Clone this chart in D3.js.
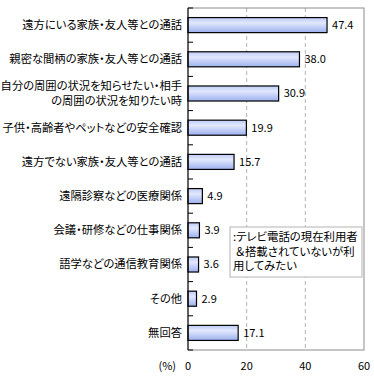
<!DOCTYPE html>
<html>
<head>
<meta charset="utf-8">
<script src="https://cdn.jsdelivr.net/npm/d3@7"></script>
<style>
  body { margin: 0; background: #fff; }
  text { font-family: "Noto Sans CJK JP", sans-serif; font-size: 11px; fill: #000; font-feature-settings: "palt"; }
  text.cat { font-size: 11.3px; }
  .legend text { font-size: 11.4px; }
</style>
</head>
<body>
<script>
const categories = [
  "遠方にいる家族・友人等との通話",
  "親密な間柄の家族・友人等との通話",
  "自分の周囲の状況を知らせたい・相手\nの周囲の状況を知りたい時",
  "子供・高齢者やペットなどの安全確認",
  "遠方でない家族・友人等との通話",
  "遠隔診察などの医療関係",
  "会議・研修などの仕事関係",
  "語学などの通信教育関係",
  "その他",
  "無回答",
];
const values = [47.4, 38.0, 30.9, 19.9, 15.7, 4.9, 3.9, 3.6, 2.9, 17.1];
const xTicks = [0, 20, 40, 60];
const legendLines = [":テレビ電話の現在利用者", " ＆搭載されていないが利", "用してみたい"];

const width = 374;
const height = 380;
const margin = { top: 8, right: 10, bottom: 30, left: 188 };

const svg = d3
  .select("body")
  .append("svg")
  .attr("width", width)
  .attr("height", height);

const defs = svg.append("defs");
const grad = defs
  .append("linearGradient")
  .attr("id", "barGrad")
  .attr("x1", 0).attr("y1", 0).attr("x2", 0).attr("y2", 1);
grad.append("stop").attr("offset", "0%").attr("stop-color", "#bccaf6");
grad.append("stop").attr("offset", "35%").attr("stop-color", "#e2e8fd");
grad.append("stop").attr("offset", "100%").attr("stop-color", "#9cb0ee");

const xScale = d3
  .scaleLinear()
  .domain([0, 60])
  .range([margin.left, width - margin.right]);
const yScale = d3
  .scaleBand()
  .domain(categories)
  .range([margin.top, height - margin.bottom])
  .paddingInner(0.56)
  .paddingOuter(0.28);

const plotTop = margin.top;
const plotBottom = height - margin.bottom;

// grid
svg
  .append("g")
  .selectAll("line")
  .data(xTicks.slice(1, -1))
  .enter()
  .append("line")
  .attr("x1", (d) => xScale(d))
  .attr("x2", (d) => xScale(d))
  .attr("y1", plotTop)
  .attr("y2", plotBottom)
  .attr("stroke", "#b4b4b4")
  .attr("stroke-dasharray", "4,3");

// frame
svg
  .append("rect")
  .attr("x", xScale(0))
  .attr("y", plotTop)
  .attr("width", xScale(60) - xScale(0))
  .attr("height", plotBottom - plotTop)
  .attr("fill", "none")
  .attr("stroke", "#8c8c8c");

// bars
svg
  .selectAll(".bar")
  .data(values)
  .enter()
  .append("rect")
  .attr("class", "bar")
  .attr("x", xScale(0))
  .attr("y", (d, i) => yScale(categories[i]))
  .attr("width", (d) => xScale(d) - xScale(0))
  .attr("height", yScale.bandwidth())
  .attr("fill", "url(#barGrad)")
  .attr("stroke", "#000")
  .attr("stroke-width", 1.2);

// value labels
svg
  .selectAll(".val")
  .data(values)
  .enter()
  .append("text")
  .attr("class", "val")
  .attr("x", (d) => xScale(d) + 5)
  .attr("y", (d, i) => yScale(categories[i]) + yScale.bandwidth() / 2)
  .attr("dy", "0.35em")
  .text((d) => d.toFixed(1));

// y axis (ticks inward at band boundaries)
const boundaries = d3
  .range(categories.length + 1)
  .map((i) => plotTop + (i * (plotBottom - plotTop)) / categories.length);
svg
  .append("g")
  .selectAll("line")
  .data(boundaries)
  .enter()
  .append("line")
  .attr("x1", xScale(0))
  .attr("x2", xScale(0) + 5)
  .attr("y1", (d) => d)
  .attr("y2", (d) => d)
  .attr("stroke", "#000");
svg
  .append("line")
  .attr("x1", xScale(0))
  .attr("x2", xScale(0))
  .attr("y1", plotTop)
  .attr("y2", plotBottom)
  .attr("stroke", "#000");

// category labels
const catLabels = svg
  .selectAll(".cat")
  .data(categories)
  .enter()
  .append("text")
  .attr("class", "cat")
  .attr("text-anchor", "end")
  .attr("y", (d) => yScale(d) + yScale.bandwidth() / 2);
catLabels.each(function (d) {
  const lines = d.split("\n");
  const el = d3.select(this);
  lines.forEach((line, j) => {
    el.append("tspan")
      .attr("x", margin.left - 6)
      .attr("dy", j === 0 ? `${0.35 - (lines.length - 1) * 0.65}em` : "1.35em")
      .text(line);
  });
});

// x axis labels
svg
  .append("g")
  .selectAll("text")
  .data(xTicks)
  .enter()
  .append("text")
  .attr("x", (d) => xScale(d))
  .attr("y", plotBottom + 20)
  .attr("text-anchor", "middle")
  .text((d) => d);
svg
  .append("text")
  .attr("x", xScale(0) - 12)
  .attr("y", plotBottom + 20)
  .attr("text-anchor", "end")
  .text("(%)");

// legend
const legend = svg
  .append("g")
  .attr("class", "legend")
  .attr("transform", "translate(230, 227)");
legend
  .append("rect")
  .attr("width", 132)
  .attr("height", 50)
  .attr("fill", "#fff")
  .attr("stroke", "#b4b4b4");
legend
  .selectAll("text")
  .data(legendLines)
  .enter()
  .append("text")
  .attr("x", 3)
  .attr("y", (d, i) => 14 + i * 14.5)
  .attr("xml:space", "preserve")
  .style("white-space", "pre")
  .text((d) => d);
</script>
</body>
</html>
